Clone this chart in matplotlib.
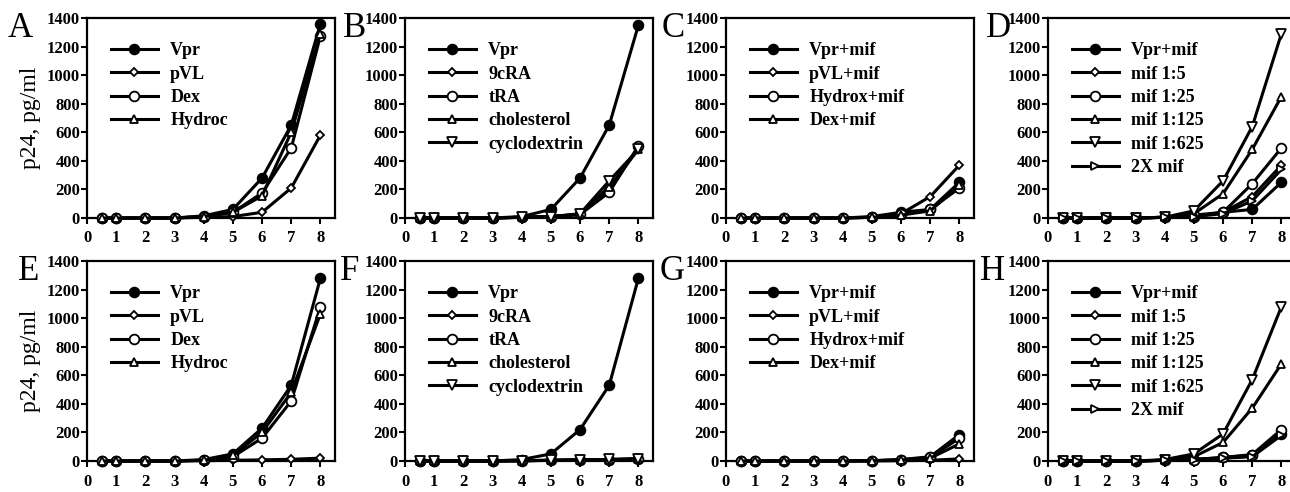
import matplotlib
matplotlib.use("Agg")
import matplotlib.pyplot as plt

# days after infection
days = [0.5, 1, 2, 3, 4, 5, 6, 7, 8]

# panel A
a_labels = ["Vpr", "pVL", "Dex", "Hydroc"]
a_vpr = [0, 0, 0, 0, 15, 60, 280, 650, 1360]
a_pvl = [0, 0, 0, 0, 5, 10, 40, 210, 580]
a_dex = [0, 0, 0, 0, 10, 40, 175, 490, 1275]
a_hyd = [0, 0, 0, 0, 10, 40, 155, 600, 1290]

# panel B
b_labels = ["Vpr", "9cRA", "tRA", "cholesterol", "cyclodextrin"]
b_vpr = [0, 0, 0, 0, 10, 60, 280, 650, 1350]
b_9cra = [0, 0, 0, 0, 5, 10, 25, 200, 490]
b_tra = [0, 0, 0, 0, 5, 10, 25, 180, 505]
b_chol = [0, 0, 0, 0, 5, 10, 25, 220, 480]
b_cyc = [0, 0, 0, 0, 5, 10, 30, 260, 480]

# panel C
c_labels = ["Vpr+mif", "pVL+mif", "Hydrox+mif", "Dex+mif"]
c_vpr = [0, 0, 0, 0, 0, 10, 40, 60, 250]
c_pvl = [0, 0, 0, 0, 0, 5, 30, 150, 370]
c_hyd = [0, 0, 0, 0, 0, 5, 25, 60, 210]
c_dex = [0, 0, 0, 0, 0, 5, 20, 50, 230]

# panel D
d_labels = ["Vpr+mif", "mif 1:5", "mif 1:25", "mif 1:125", "mif 1:625", "2X mif"]
d_vpr = [0, 0, 0, 0, 5, 10, 40, 60, 250]
d_5 = [0, 0, 0, 0, 5, 10, 40, 150, 370]
d_25 = [0, 0, 0, 0, 5, 20, 40, 240, 490]
d_125 = [0, 0, 0, 0, 5, 30, 170, 480, 850]
d_625 = [0, 0, 0, 0, 5, 50, 260, 640, 1290]
d_2x = [0, 0, 0, 0, 5, 10, 30, 120, 340]

# panel E
e_vpr = [0, 0, 0, 0, 10, 50, 230, 530, 1280]
e_pvl = [0, 0, 0, 0, 2, 5, 8, 12, 20]
e_dex = [0, 0, 0, 0, 5, 30, 160, 420, 1080]
e_hyd = [0, 0, 0, 0, 5, 40, 200, 480, 1030]

# panel F
f_vpr = [0, 0, 0, 0, 10, 50, 220, 530, 1280]
f_9cra = [0, 0, 0, 0, 2, 5, 8, 10, 15]
f_tra = [0, 0, 0, 0, 2, 4, 6, 8, 12]
f_chol = [0, 0, 0, 0, 2, 5, 7, 10, 14]
f_cyc = [0, 0, 0, 0, 2, 5, 8, 11, 16]

# panel G
g_vpr = [0, 0, 0, 0, 0, 2, 10, 30, 185]
g_pvl = [0, 0, 0, 0, 0, 0, 2, 5, 15]
g_hyd = [0, 0, 0, 0, 0, 2, 8, 25, 160]
g_dex = [0, 0, 0, 0, 0, 2, 8, 20, 120]

# panel H
h_vpr = [0, 0, 0, 0, 5, 10, 25, 40, 190]
h_5 = [0, 0, 0, 0, 5, 10, 20, 35, 200]
h_25 = [0, 0, 0, 0, 5, 10, 25, 45, 220]
h_125 = [0, 0, 0, 0, 5, 30, 130, 370, 680]
h_625 = [0, 0, 0, 0, 10, 50, 190, 570, 1080]
h_2x = [0, 0, 0, 0, 5, 10, 20, 30, 180]

x_ticks = [0, 1, 2, 3, 4, 5, 6, 7, 8]
y_ticks = [0, 200, 400, 600, 800, 1000, 1200, 1400]

plt.rcParams['font.family'] = ['Liberation Serif', 'DejaVu Serif']

# marker styles: (marker, facecolor, size)
m_fill = ("o", "black", 7)
m_diam = ("D", "white", 4.5)
m_circ = ("o", "white", 7)
m_up = ("^", "white", 6)
m_down = ("v", "white", 7)
m_right = (">", "white", 6)

panels = [
    ("A", a_labels, [a_vpr, a_pvl, a_dex, a_hyd], [m_fill, m_diam, m_circ, m_up]),
    ("B", b_labels, [b_vpr, b_9cra, b_tra, b_chol, b_cyc], [m_fill, m_diam, m_circ, m_up, m_down]),
    ("C", c_labels, [c_vpr, c_pvl, c_hyd, c_dex], [m_fill, m_diam, m_circ, m_up]),
    ("D", d_labels, [d_vpr, d_5, d_25, d_125, d_625, d_2x], [m_fill, m_diam, m_circ, m_up, m_down, m_right]),
    ("E", a_labels, [e_vpr, e_pvl, e_dex, e_hyd], [m_fill, m_diam, m_circ, m_up]),
    ("F", b_labels, [f_vpr, f_9cra, f_tra, f_chol, f_cyc], [m_fill, m_diam, m_circ, m_up, m_down]),
    ("G", c_labels, [g_vpr, g_pvl, g_hyd, g_dex], [m_fill, m_diam, m_circ, m_up]),
    ("H", d_labels, [h_vpr, h_5, h_25, h_125, h_625, h_2x], [m_fill, m_diam, m_circ, m_up, m_down, m_right]),
]

W, H = 1290, 492
fig = plt.figure(figsize=(W / 100, H / 100), dpi=100)

lefts = [87, 405, 726, 1048]
tops = [18, 261]
ax_w, ax_h = 248, 200
letter_x = [[8, 343, 662, 986], [18, 340, 660, 980]]

for i, (letter, labels, series, markers) in enumerate(panels):
    row, col = divmod(i, 4)
    l, t = lefts[col], tops[row]
    ax = fig.add_axes([l / W, 1 - (t + ax_h) / H, ax_w / W, ax_h / H])
    for lab, ys, (mk, fc, ms) in zip(labels, series, markers):
        ax.plot(days, ys, color="black", lw=2.2, marker=mk, markerfacecolor=fc,
                markeredgecolor="black", markeredgewidth=1.3, markersize=ms,
                label=lab, clip_on=False, zorder=3)
    ax.set_xlim(0, 8.5)
    ax.set_ylim(0, 1400)
    ax.set_xticks(x_ticks)
    ax.set_yticks(y_ticks)
    ax.tick_params(direction="out", length=4, width=1.5, labelsize=12, pad=1)
    for lbl in ax.get_xticklabels() + ax.get_yticklabels():
        lbl.set_fontweight("bold")
    ax.tick_params(axis="x", pad=5)
    for s in ax.spines.values():
        s.set_linewidth(1.6)
    ax.legend(loc="upper left", bbox_to_anchor=(0.03, 0.96), frameon=False,
              handlelength=2.6, labelspacing=0.35, handletextpad=0.7,
              prop={"family": ["Liberation Serif"], "weight": "bold", "size": 13})
    fig.text(letter_x[row][col] / W, 1 - (t - 6) / H, letter, fontsize=25,
             va="top", ha="left")
    if col == 0:
        ax.set_ylabel("p24, pg/ml", fontsize=17, labelpad=4)

fig.savefig("out.png", dpi=100)
